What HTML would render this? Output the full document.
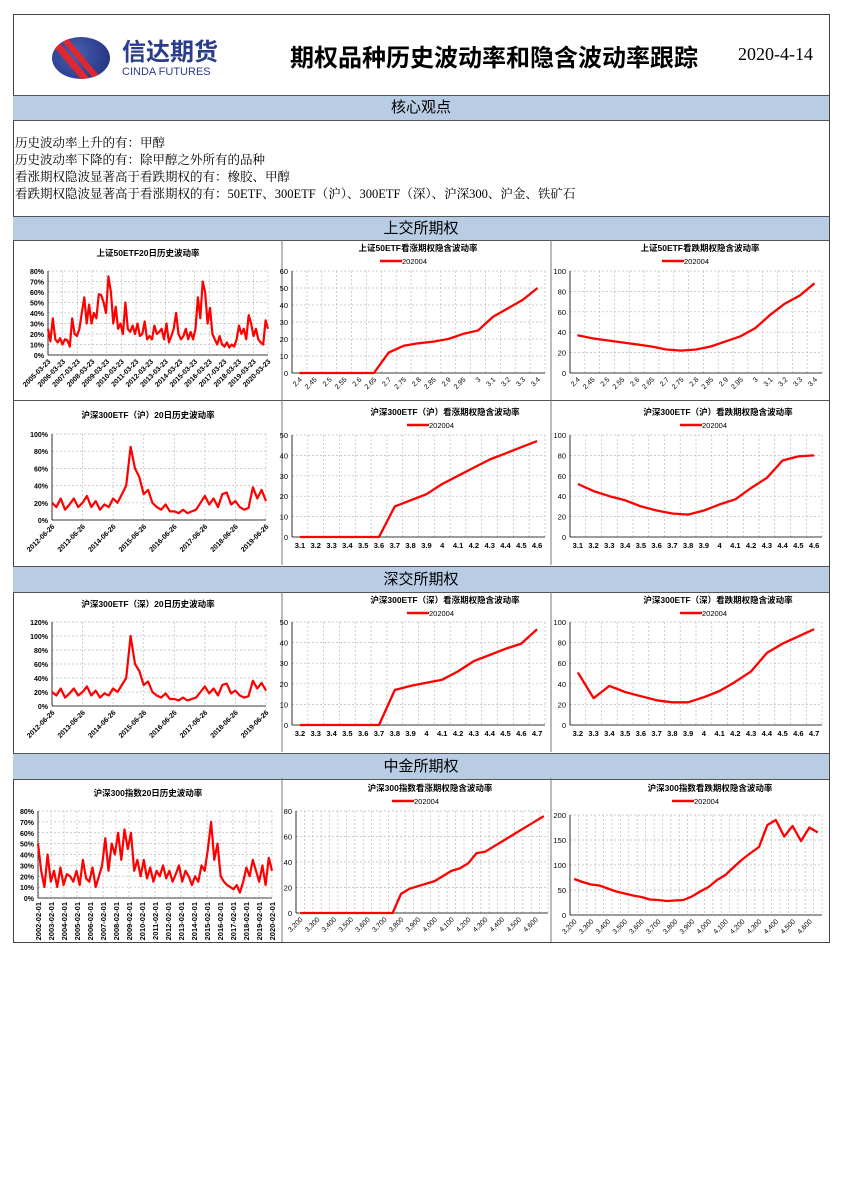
<!DOCTYPE html>
<html><head><meta charset="utf-8">
<style>
body{margin:0;background:#fff;width:842px;height:1190px;position:relative;font-family:"Liberation Serif","Noto Serif CJK SC","Noto Sans CJK SC",serif;}
.abs{position:absolute;}
.bar{position:absolute;left:13px;width:816px;background:#b8cce4;border-top:1px solid #555;border-bottom:1px solid #555;text-align:center;font-size:15px;font-family:"Liberation Sans","Noto Sans CJK SC",sans-serif;}
svg text{font-family:"Liberation Sans","Noto Sans CJK SC",sans-serif;}
</style></head><body>
<div class="abs" style="left:13px;top:14px;width:815px;height:927px;border:1px solid #444;"></div>
<div class="abs" style="left:52px;top:37px;width:58px;height:42px;border-radius:50%;background:radial-gradient(circle at 40% 40%,#4a5fb0,#1c2d7a);overflow:hidden;">
 <div style="position:absolute;left:14px;top:-8px;width:7px;height:62px;background:#e0262e;transform:rotate(-40deg);"></div>
 <div style="position:absolute;left:27px;top:-8px;width:6px;height:62px;background:#e0262e;transform:rotate(-40deg);"></div>
</div>
<div class="abs" style="left:122px;top:40px;color:#2a3c8c;font-size:24px;font-weight:bold;font-family:'Liberation Sans','Noto Sans CJK SC',sans-serif;line-height:26px;">信达期货</div>
<div class="abs" style="left:122px;top:66px;color:#2a3c8c;font-size:11px;font-family:'Liberation Sans',sans-serif;">CINDA FUTURES</div>
<div class="abs" style="left:290px;top:38px;font-size:24px;font-weight:bold;font-family:'Liberation Sans','Noto Sans CJK SC',sans-serif;">期权品种历史波动率和隐含波动率跟踪</div>
<div class="abs" style="left:738px;top:44px;font-size:18px;">2020-4-14</div>
<div class="bar" style="top:95px;height:24px;line-height:24px;">核心观点</div>
<div class="abs" style="left:15px;top:135px;font-size:12.5px;line-height:17px;">历史波动率上升的有：甲醇<br>历史波动率下降的有：除甲醇之外所有的品种<br>看涨期权隐波显著高于看跌期权的有：橡胶、甲醇<br>看跌期权隐波显著高于看涨期权的有：50ETF、300ETF（沪）、300ETF（深）、沪深300、沪金、铁矿石</div>
<div class="bar" style="top:216px;height:23px;line-height:23px;">上交所期权</div>
<div class="bar" style="top:566px;height:25px;line-height:25px;">深交所期权</div>
<div class="bar" style="top:753px;height:25px;line-height:25px;">中金所期权</div>
<div class="abs" style="left:13px;top:400px;width:816px;border-top:1px solid #555;"></div>
<svg id="charts" class="abs" style="left:0;top:0" width="842" height="1190"></svg>
<script>
// ----- data -----
const h1Labels=["2005-03-23","2006-03-23","2007-03-23","2008-03-23","2009-03-23","2010-03-23","2011-03-23","2012-03-23","2013-03-23","2014-03-23","2015-03-23","2016-03-23","2017-03-23","2018-03-23","2019-03-23","2020-03-23"];
const h1Values=[25,13,35,15,12,16,10,15,14,8,35,20,18,25,40,55,30,48,30,40,35,58,57,50,40,75,60,30,46,25,30,20,50,25,22,28,20,30,18,20,32,15,18,15,28,20,22,25,15,30,12,18,25,40,20,15,18,25,15,22,15,25,55,35,70,60,30,45,20,15,10,18,10,8,12,7,10,8,15,28,20,25,15,38,30,18,25,15,12,10,33,25];
const h1Ticks=[0,10,20,30,40,50,60,70,80];
const c1Cats=["2.4","2.45","2.5","2.55","2.6","2.65","2.7","2.75","2.8","2.85","2.9","2.95","3","3.1","3.2","3.3","3.4"];
const c1Values=[0,0,0,0,0,0,12,16,17.5,18.5,20,23,25,33,38,43,50];
const c1Ticks=[0,10,20,30,40,50,60];
const p1Values=[37,34,32,30,28,26,23,22,23,26,31,36,44,57,68,76,88];
const p1Ticks=[0,20,40,60,80,100];
const h2Labels=["2012-06-26","2013-06-26","2014-06-26","2015-06-26","2016-06-26","2017-06-26","2018-06-26","2019-06-26"];
const h2Values=[20,15,25,12,18,25,15,20,28,15,22,12,18,15,25,20,30,40,85,60,50,30,35,20,15,12,18,10,10,8,12,8,10,12,20,28,18,25,15,30,32,18,22,15,12,14,38,25,35,22];
const h2Ticks=[0,20,40,60,80,100];
const c2Cats=["3.1","3.2","3.3","3.4","3.5","3.6","3.7","3.8","3.9","4","4.1","4.2","4.3","4.4","4.5","4.6"];
const c2Values=[0,0,0,0,0,0,15,18,21,26,30,34,38,41,44,47];
const c2Ticks=[0,10,20,30,40,50];
const p2Values=[52,45,40,36,30,26,23,22,26,32,37,48,58,75,79,80];
const h3Values=[20,15,25,12,18,25,15,20,28,15,22,12,18,15,25,20,30,40,100,60,50,30,35,20,15,12,18,10,10,8,12,8,10,12,20,28,18,25,15,30,32,18,22,15,12,14,36,25,33,22];
const h3Ticks=[0,20,40,60,80,100,120];
const c3Cats=["3.2","3.3","3.4","3.5","3.6","3.7","3.8","3.9","4","4.1","4.2","4.3","4.4","4.5","4.6","4.7"];
const c3Values=[0,0,0,0,0,0,17,19,20.5,22,26,31,34,37,39.5,46.5];
const p3Values=[51,26,38,32,28,24,22,22,27,33,42,52,70,79,86,93];
const h4Labels=["2002-02-01","2003-02-01","2004-02-01","2005-02-01","2006-02-01","2007-02-01","2008-02-01","2009-02-01","2010-02-01","2011-02-01","2012-02-01","2013-02-01","2014-02-01","2015-02-01","2016-02-01","2017-02-01","2018-02-01","2019-02-01","2020-02-01"];
const h4Values=[50,25,10,40,15,25,10,28,12,22,20,15,25,12,35,18,15,28,10,20,30,55,25,50,40,60,35,63,45,60,25,35,20,35,18,28,15,25,20,30,18,25,15,22,30,15,25,20,12,20,15,30,25,45,70,35,50,20,15,12,10,8,12,5,15,28,20,35,25,15,30,12,37,25];
const h4Ticks=[0,10,20,30,40,50,60,70,80];
const c4Cats=["3,200","3,250","3,300","3,350","3,400","3,450","3,500","3,550","3,600","3,650","3,700","3,750","3,800","3,850","3,900","3,950","4,000","4,050","4,100","4,150","4,200","4,250","4,300","4,350","4,400","4,450","4,500","4,550","4,600","4,650"];
const c4Values=[0,0,0,0,0,0,0,0,0,0,0,0,15,19,21,23,25,29,33,35,39,47,48,52,56,60,64,68,72,76];
const c4Ticks=[0,20,40,60,80];
const p4Values=[72,66,61,59,53,47,43,39,36,31,30,28,29,30,37,47,56,70,80,96,111,124,136,180,190,157,178,148,175,165];
const p4Ticks=[0,50,100,150,200];

const NS="http://www.w3.org/2000/svg";
const root=document.getElementById('charts');
function mk(tag,attrs,parent,txt){const e=document.createElementNS(NS,tag);for(const k in attrs)e.setAttribute(k,attrs[k]);if(txt!==undefined)e.textContent=txt;parent.appendChild(e);return e;}

function chart(o){
  const g=mk('g',{},root);
  
  
  const {x0,x1,y0,y1,ticks}=o;
  const vmax=ticks[ticks.length-1];
  const Y=v=>y1-(v/vmax)*(y1-y0);
  const n=o.values.length;
  const X=o.hist?(i=>x0+i*(x1-x0)/(n-1)):(i=>x0+(i+0.5)*(x1-x0)/n);
  const t=mk('text',{x:o.tx,y:o.ty,'font-size':8.5,'font-weight':'bold','text-anchor':'middle'},g,o.title);
  
  
  if(!o.hist){
    const lg=mk('g',{},g);
    
    
    mk('line',{x1:o.tx-38,x2:o.tx-16,y1:o.ty+10,y2:o.ty+10,stroke:'#f00','stroke-width':2.5},lg);
    mk('text',{x:o.tx-16,y:o.ty+13,'font-size':7.5},lg,'202004');
  }
  ticks.forEach(v=>{
    mk('line',{x1:x0,x2:x1,y1:Y(v),y2:Y(v),stroke:'#bbb','stroke-dasharray':'2,2','stroke-width':0.7},g);
    const tl=mk('text',{x:x0-4,y:Y(v)+3,'font-size':o.hist?7:7.5,'font-weight':o.hist?'bold':'normal','text-anchor':'end'},g,v+(o.hist?'%':''));
    
    
  });
  if(!o.hist){
    for(let i=0;i<=n;i++){const xx=x0+i*(x1-x0)/n;mk('line',{x1:xx,x2:xx,y1:y0,y2:y1,stroke:'#bbb','stroke-dasharray':'2,2','stroke-width':0.7},g);}
  } else {
    const L=o.labels.length;
    for(let i=0;i<L;i++){const xx=x0+i*(x1-x0)/(L-1);mk('line',{x1:xx,x2:xx,y1:y0,y2:y1,stroke:'#bbb','stroke-dasharray':'2,2','stroke-width':0.7},g);}
  }
  mk('line',{x1:x0,x2:x0,y1:y0,y2:y1,stroke:'#000','stroke-width':0.8},g);
  mk('line',{x1:x0,x2:x1,y1:y1,y2:y1,stroke:'#000','stroke-width':0.8},g);
  const labs=o.hist?o.labels:o.cats;
  const step=o.step||1;
  labs.forEach((lab,i)=>{
    if(i%step) return;
    const xx=o.hist?x0+i*(x1-x0)/(labs.length-1):X(i);
    let tl;
    if(o.rot===90){tl=mk('text',{x:xx+3,y:y1+4,'font-size':7.5,'font-weight':'bold','text-anchor':'end',transform:`rotate(-90 ${xx+3} ${y1+4})`},g,lab);}
    else if(o.rot){tl=mk('text',{x:xx+3,y:y1+7,'font-size':7,'font-weight':o.hist?'bold':'normal','text-anchor':'end',transform:`rotate(-45 ${xx+3} ${y1+7})`},g,lab);}
    else{tl=mk('text',{x:xx,y:y1+11,'font-size':7.5,'font-weight':'bold','text-anchor':'middle'},g,lab);}
    
    
  });
  const pts=o.values.map((v,i)=>X(i).toFixed(1)+','+Y(v).toFixed(1)).join(' ');
  const pl=mk('polyline',{points:pts,fill:'none',stroke:'#f00','stroke-width':o.hist?2.2:2.3,'stroke-linejoin':'round'},g);
  
  
}
[[282,240,565],[551,240,565],[282,592,752],[551,592,752],[282,778,942],[551,778,942]].forEach(d=>{
  const l=mk('line',{x1:d[0],x2:d[0],y1:d[1],y2:d[2],stroke:'#777','stroke-width':1},root);
  
  
});
chart({name:'sse-50etf-hv-chart',hist:true,title:'上证50ETF20日历史波动率',tx:148,ty:256,x0:48,x1:268,y0:271,y1:355,ticks:h1Ticks,labels:h1Labels,values:h1Values,rot:45});
chart({name:'sse-50etf-call-iv-chart',title:'上证50ETF看涨期权隐含波动率',tx:418,ty:251,x0:292,x1:545,y0:271,y1:373,ticks:c1Ticks,cats:c1Cats,values:c1Values,rot:45});
chart({name:'sse-50etf-put-iv-chart',title:'上证50ETF看跌期权隐含波动率',tx:700,ty:251,x0:570,x1:822,y0:271,y1:373,ticks:p1Ticks,cats:c1Cats,values:p1Values,rot:45});
chart({name:'sse-300etf-hv-chart',hist:true,title:'沪深300ETF（沪）20日历史波动率',tx:148,ty:418,x0:52,x1:266,y0:434,y1:520,ticks:h2Ticks,labels:h2Labels,values:h2Values,rot:45});
chart({name:'sse-300etf-call-iv-chart',title:'沪深300ETF（沪）看涨期权隐含波动率',tx:445,ty:415,x0:292,x1:545,y0:435,y1:537,ticks:c2Ticks,cats:c2Cats,values:c2Values});
chart({name:'sse-300etf-put-iv-chart',title:'沪深300ETF（沪）看跌期权隐含波动率',tx:718,ty:415,x0:570,x1:822,y0:435,y1:537,ticks:p1Ticks,cats:c2Cats,values:p2Values});
chart({name:'szse-300etf-hv-chart',hist:true,title:'沪深300ETF（深）20日历史波动率',tx:148,ty:607,x0:52,x1:266,y0:622,y1:706,ticks:h3Ticks,labels:h2Labels,values:h3Values,rot:45});
chart({name:'szse-300etf-call-iv-chart',title:'沪深300ETF（深）看涨期权隐含波动率',tx:445,ty:603,x0:292,x1:545,y0:622,y1:725,ticks:c2Ticks,cats:c3Cats,values:c3Values});
chart({name:'szse-300etf-put-iv-chart',title:'沪深300ETF（深）看跌期权隐含波动率',tx:718,ty:603,x0:570,x1:822,y0:622,y1:725,ticks:p1Ticks,cats:c3Cats,values:p3Values});
chart({name:'csi300-index-hv-chart',hist:true,title:'沪深300指数20日历史波动率',tx:148,ty:796,x0:38,x1:272,y0:811,y1:898,ticks:h4Ticks,labels:h4Labels,values:h4Values,rot:90});
chart({name:'csi300-index-call-iv-chart',title:'沪深300指数看涨期权隐含波动率',tx:430,ty:791,x0:296,x1:548,y0:811,y1:913,ticks:c4Ticks,cats:c4Cats,values:c4Values,rot:45,step:2});
chart({name:'csi300-index-put-iv-chart',title:'沪深300指数看跌期权隐含波动率',tx:710,ty:791,x0:570,x1:822,y0:815,y1:915,ticks:p4Ticks,cats:c4Cats,values:p4Values,rot:45,step:2});
</script>
</body></html>
